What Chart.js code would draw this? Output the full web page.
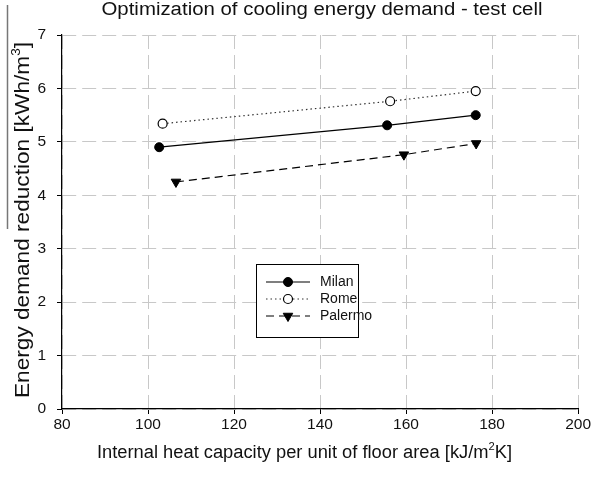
<!DOCTYPE html>
<html>
<head>
<meta charset="utf-8">
<script src="https://cdn.jsdelivr.net/npm/chart.js@4.4.0/dist/chart.umd.min.js"></script>
<style>
  html, body { margin: 0; padding: 0; background: #fff; }
  #wrap { width: 592px; height: 477px; }
</style>
</head>
<body>
<div id="wrap"><canvas id="c" width="592" height="477"></canvas></div>
<script>
// ---- data ----
const seriesNames = ["Milan", "Rome", "Palermo"];
const milanX = [102.6, 155.6, 176.2];
const milanY = [4.90, 5.31, 5.50];
const romeX = [103.4, 156.3, 176.2];
const romeY = [5.34, 5.76, 5.95];
const palermoX = [106.5, 159.5, 176.3];
const palermoY = [4.25, 4.76, 4.97];
const xTicks = [80, 100, 120, 140, 160, 180, 200];
const yTicks = [0, 1, 2, 3, 4, 5, 6, 7];

const titleText = "Optimization of cooling energy demand - test cell";
// axis titles as [text, superscript, text] parts
const xTitleParts = ["Internal heat capacity per unit of floor area [kJ/m", "2", "K]"];
const yTitleParts = ["Energy demand reduction [kWh/m", "3", "]"];

const FONT = "'Liberation Sans', Arial, sans-serif";

function pts(xs, ys) { return xs.map((x, i) => ({ x: x, y: ys[i] })); }

const datasets = [
  { label: seriesNames[0], data: pts(milanX, milanY), borderColor: '#000', borderWidth: 1.2,
    pointStyle: 'circle', pointRadius: 4.5, pointBackgroundColor: '#000', pointBorderColor: '#000', pointBorderWidth: 1 },
  { label: seriesNames[1], data: pts(romeX, romeY), borderColor: '#333', borderWidth: 1.2, borderDash: [1.5, 3],
    pointStyle: 'circle', pointRadius: 4.5, pointBackgroundColor: '#fff', pointBorderColor: '#000', pointBorderWidth: 1.2 },
  { label: seriesNames[2], data: pts(palermoX, palermoY), borderColor: '#000', borderWidth: 1.2, borderDash: [8, 5],
    pointStyle: 'triangle', rotation: 180, pointRadius: 5.5, pointBackgroundColor: '#000', pointBorderColor: '#000', pointBorderWidth: 1 }
];

// draw text (with optional superscript parts) centred at (cx, baseline), stretched to a width
function drawParts(ctx, parts, size, cx, base, targetW, rot) {
  const big = size + 'px ' + FONT, small = Math.round(size * 0.62) + 'px ' + FONT;
  const widths = parts.map((p, i) => { ctx.font = (i % 2 ? small : big); return ctx.measureText(p).width; });
  const total = widths.reduce((a, b) => a + b, 0);
  const sx = targetW ? targetW / total : 1;
  ctx.save();
  ctx.translate(cx, base);
  if (rot) ctx.rotate(rot);
  ctx.scale(sx, 1);
  ctx.textAlign = 'left';
  ctx.textBaseline = 'alphabetic';
  let x = -total / 2;
  parts.forEach((p, i) => {
    ctx.font = (i % 2 ? small : big);
    ctx.fillText(p, x, i % 2 ? -size * 0.42 : 0);
    x += widths[i];
  });
  ctx.restore();
}

const decor = {
  id: 'decor',
  afterDraw(chart) {
    const ctx = chart.ctx;
    ctx.save();
    // stray vertical line at left edge (present in reference)
    ctx.strokeStyle = '#777';
    ctx.lineWidth = 1.5;
    ctx.beginPath(); ctx.moveTo(7.5, 5); ctx.lineTo(7.5, 229); ctx.stroke();

    ctx.fillStyle = '#111';
    drawParts(ctx, [titleText], 18, 322, 15, 441, 0);
    drawParts(ctx, xTitleParts, 18, 304.5, 458, 415, 0);
    drawParts(ctx, yTitleParts, 20, 28.5, 220, 356, -Math.PI / 2);

    // legend
    const bx = 256.5, by = 264.5, bw = 102, bh = 73;
    ctx.fillStyle = '#fff';
    ctx.fillRect(bx, by, bw, bh);
    ctx.strokeStyle = '#000';
    ctx.lineWidth = 1;
    ctx.setLineDash([]);
    ctx.strokeRect(bx, by, bw, bh);
    const rows = [282, 299, 316];
    chart.data.datasets.forEach((ds, i) => {
      const y = rows[i];
      ctx.save();
      ctx.strokeStyle = ds.borderColor;
      ctx.lineWidth = ds.borderWidth;
      ctx.setLineDash(ds.borderDash || []);
      ctx.beginPath(); ctx.moveTo(266, y); ctx.lineTo(310, y); ctx.stroke();
      ctx.restore();
      ctx.save();
      ctx.fillStyle = ds.pointBackgroundColor;
      ctx.strokeStyle = ds.pointBorderColor;
      ctx.lineWidth = ds.pointBorderWidth;
      ctx.setLineDash([]);
      Chart.helpers.drawPoint(ctx, { pointStyle: ds.pointStyle, rotation: ds.rotation || 0, radius: ds.pointRadius, borderWidth: ds.pointBorderWidth }, 288, y);
      ctx.restore();
      ctx.fillStyle = '#111';
      ctx.font = '14px ' + FONT;
      ctx.textAlign = 'left';
      ctx.textBaseline = 'middle';
      ctx.fillText(ds.label, 320, y);
    });
    ctx.restore();
  }
};

new Chart(document.getElementById('c'), {
  type: 'line',
  data: { datasets: datasets },
  options: {
    responsive: false,
    animation: false,
    devicePixelRatio: 1,
    layout: { padding: { top: 35, right: 13, left: 0, bottom: 0 } },
    plugins: { legend: { display: false }, title: { display: false }, tooltip: { enabled: false } },
    scales: {
      x: {
        type: 'linear', min: 80, max: 200,
        afterBuildTicks: s => { s.ticks = xTicks.map(v => ({ value: v })); },
        afterFit: s => { s.height = 68; },
        grid: { color: '#c8c8c8', lineWidth: 1, borderDash: [14, 6], tickColor: '#000', tickLength: 5, tickWidth: 1, tickBorderDash: [] },
        border: { display: true, color: '#000', width: 1.2, dash: [14, 6] },
        ticks: { color: '#111', font: { family: FONT, size: 15.5 }, padding: 1, maxRotation: 0 }
      },
      y: {
        type: 'linear', min: 0, max: 7,
        afterBuildTicks: s => { s.ticks = yTicks.map(v => ({ value: v })); },
        afterFit: s => { s.width = 62; },
        grid: { color: '#c8c8c8', lineWidth: 1, borderDash: [14, 6], tickColor: '#000', tickLength: 5, tickWidth: 1, tickBorderDash: [] },
        border: { display: true, color: '#000', width: 1.2, dash: [14, 6] },
        ticks: { color: '#111', font: { family: FONT, size: 15.5 }, padding: 11 }
      }
    }
  },
  plugins: [decor]
});
</script>
</body>
</html>
